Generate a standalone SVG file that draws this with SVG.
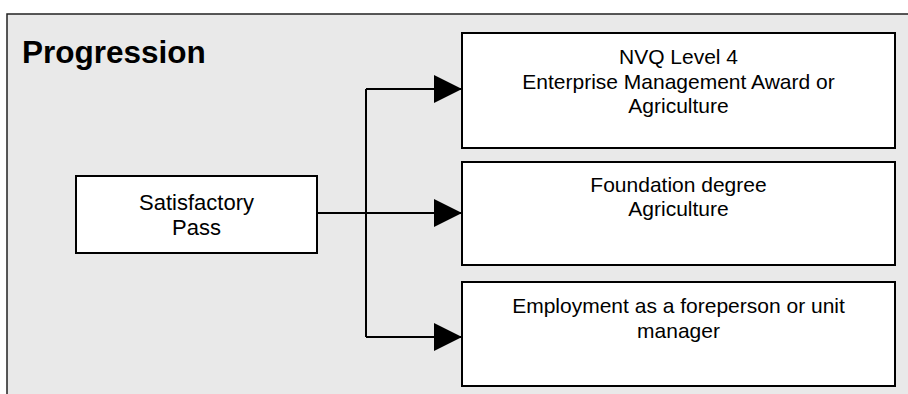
<svg xmlns="http://www.w3.org/2000/svg" width="908" height="394" viewBox="0 0 908 394">
<defs>
<style>
.box{fill:#ffffff;stroke:#000000;stroke-width:2}
.t{font-family:"Liberation Sans",Arial,sans-serif;font-size:21px;fill:#000000;text-anchor:middle}
.c{fill:none;stroke:#000000;stroke-width:2}
</style>
<marker id="ah" markerUnits="userSpaceOnUse" markerWidth="28" markerHeight="28" refX="28" refY="14" orient="auto">
<path d="M0,0 L28,14 L0,28 Z" fill="#000000"/>
</marker>
</defs>
<rect x="7" y="14" width="910" height="400" fill="#e9e9e9" stroke="#222222" stroke-width="1.5"/>
<text x="22" y="63" font-family="'Liberation Sans',Arial,sans-serif" font-size="31.5" font-weight="bold" fill="#000000">Progression</text>
<g id="connectors">
<path class="c" d="M317,213 L366,213"/>
<path class="c" d="M366,89 L366,337"/>
<path class="c" d="M366,89 L462,89" marker-end="url(#ah)"/>
<path class="c" d="M366,213 L462,213" marker-end="url(#ah)"/>
<path class="c" d="M366,337 L462,337" marker-end="url(#ah)"/>
</g>
<g id="satisfactory">
<rect class="box" x="76" y="176" width="241" height="77"/>
<text class="t" x="196.5" y="210" font-size="22" style="font-size:22px">Satisfactory</text>
<text class="t" x="196.5" y="235" style="font-size:22px">Pass</text>
</g>
<g id="nvq">
<rect class="box" x="462" y="33" width="433" height="115"/>
<text class="t" x="678.5" y="64">NVQ Level 4</text>
<text class="t" x="678.5" y="89">Enterprise Management Award or</text>
<text class="t" x="678.5" y="113">Agriculture</text>
</g>
<g id="foundation">
<rect class="box" x="462" y="162" width="433" height="103"/>
<text class="t" x="678.5" y="192">Foundation degree</text>
<text class="t" x="678.5" y="216">Agriculture</text>
</g>
<g id="employment">
<rect class="box" x="462" y="282" width="433" height="104"/>
<text class="t" x="678.5" y="313">Employment as a foreperson or unit</text>
<text class="t" x="678.5" y="338">manager</text>
</g>
</svg>
